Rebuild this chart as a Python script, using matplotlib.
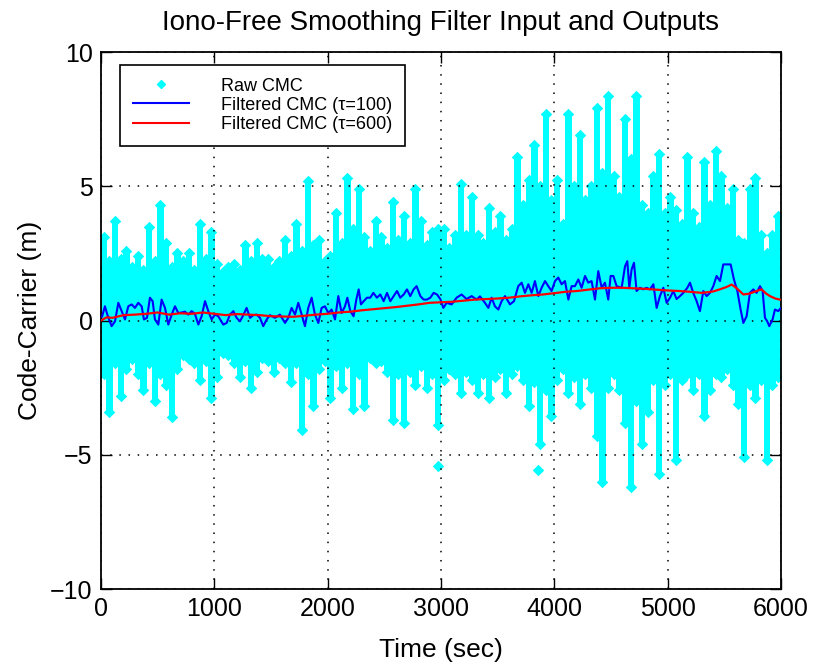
import numpy as np
import matplotlib
matplotlib.use('Agg')
import matplotlib.pyplot as plt
from matplotlib.lines import Line2D

# ------------------ DATA --------------------------------------------------------------

# raw CMC cloud: one column every 50 sec, top and bottom of the scattered points
raw_t = list(range(25, 6000, 50))
raw_hi = [3.1, 2.2, 3.7, 2.3, 2.6, 2.0, 2.4, 1.9, 3.5, 2.2,
          4.3, 2.9, 2.0, 2.5, 2.2, 2.5, 1.9, 3.6, 2.3, 3.3,
          2.1, 1.8, 2.0, 2.1, 1.9, 2.8, 2.2, 2.9, 2.3, 2.3,
          2.0, 2.2, 3.0, 2.4, 3.6, 2.6, 5.2, 2.8, 3.0, 2.2,
          2.4, 4.0, 2.9, 5.3, 3.4, 4.9, 3.1, 2.6, 3.7, 3.1,
          2.7, 4.4, 3.0, 3.9, 2.9, 4.9, 3.7, 2.8, 3.3, 3.4,
          3.4, 2.7, 3.2, 5.1, 3.2, 4.6, 3.2, 2.9, 4.2, 3.3,
          3.9, 3.0, 3.4, 6.1, 4.3, 5.25, 6.55, 5.0, 7.7, 4.5,
          5.25, 3.6, 7.7, 5.0, 6.9, 4.5, 5.0, 7.9, 5.5, 8.35,
          5.4, 4.6, 7.5, 6.0, 8.35, 4.3, 4.0, 5.4, 6.2, 4.0,
          4.6, 4.1, 3.6, 6.1, 4.0, 3.5, 5.9, 4.3, 6.3, 5.4,
          4.2, 4.9, 3.0, 2.9, 4.9, 5.3, 3.2, 2.5, 3.2, 3.9]
raw_lo = [-2.0, -3.4, -1.6, -2.8, -1.8, -1.45, -2.0, -2.6, -1.6, -3.0,
          -2.0, -2.4, -3.6, -1.8, -1.3, -1.45, -1.6, -2.2, -1.5, -2.9,
          -2.1, -1.2, -1.3, -1.6, -2.1, -1.5, -2.5, -1.9, -1.4, -1.5,
          -1.9, -1.4, -1.6, -2.3, -1.6, -4.06, -2.0, -3.2, -1.8, -1.5,
          -2.9, -1.7, -2.5, -1.6, -3.3, -2.0, -3.2, -1.4, -1.6, -1.5,
          -1.9, -3.7, -2.0, -3.8, -1.9, -2.4, -1.7, -2.5, -2.0, -3.9,
          -2.2, -1.8, -2.0, -2.7, -1.9, -2.2, -2.7, -2.0, -2.9, -2.1,
          -1.8, -2.7, -2.0, -1.7, -2.2, -3.2, -2.3, -4.6, -2.6, -3.56,
          -2.2, -1.8, -2.7, -2.1, -3.1, -2.0, -2.5, -4.3, -6.0, -2.5,
          -2.0, -2.6, -3.8, -6.2, -3.0, -4.6, -3.4, -2.2, -5.7, -2.4,
          -2.0, -5.2, -2.2, -2.0, -2.6, -2.0, -3.56, -2.6, -2.0, -2.1,
          -1.8, -2.4, -3.1, -5.1, -2.4, -2.9, -2.2, -5.2, -2.4, -2.1]
# stray points away from the columns
stray_t = [2976, 3859]
stray_v = [-5.4, -5.55]

# filtered CMC, tau = 100
f100_t = [10, 35, 56, 94, 124, 153, 182, 212, 241, 271, 300, 329, 359, 379, 406, 432, 456, 476,
          506, 535, 565, 594, 624, 653, 682, 712, 741, 771, 800, 829, 859, 888, 918, 947, 976,
          1006, 1035, 1079, 1109, 1138, 1168, 1197, 1226, 1256, 1285, 1315, 1344, 1374, 1403,
          1432, 1462, 1491, 1535, 1579, 1624, 1653, 1682, 1712, 1741, 1771, 1800, 1829, 1859,
          1888, 1918, 1947, 1976, 2006, 2035, 2065, 2094, 2124, 2153, 2174, 2200, 2229, 2253,
          2274, 2294, 2318, 2347, 2376, 2403, 2435, 2465, 2494, 2524, 2553, 2582, 2612, 2641,
          2671, 2700, 2729, 2759, 2785, 2818, 2847, 2876, 2906, 2935, 2965, 2994, 3010, 3021,
          3050, 3094, 3138, 3182, 3226, 3271, 3315, 3344, 3388, 3418, 3447, 3476, 3506, 3535,
          3565, 3609, 3644, 3682, 3712, 3741, 3771, 3800, 3829, 3859, 3888, 3918, 3947, 3976,
          4006, 4035, 4065, 4094, 4124, 4153, 4182, 4212, 4241, 4271, 4300, 4329, 4359, 4388,
          4418, 4447, 4476, 4497, 4521, 4550, 4594, 4624, 4644, 4662, 4682, 4703, 4726, 4756,
          4785, 4815, 4844, 4874, 4903, 4932, 4962, 4991, 5021, 5050, 5079, 5109, 5138, 5174,
          5197, 5226, 5256, 5285, 5315, 5344, 5374, 5403, 5432, 5462, 5491, 5526, 5556, 5585,
          5615, 5644, 5668, 5697, 5726, 5756, 5785, 5815, 5838, 5859, 5879, 5897, 5926, 5947,
          5976, 5995]
f100_v = [0.15, 0.53, 0.22, -0.21, -0.03, 0.66, 0.35, 0.04, 0.53, 0.6, 0.47, 0.66, 0.53, 0.04,
          0.1, 0.85, 0.72, 0.04, -0.15, 0.78, 0.47, -0.15, 0.22, 0.53, 0.28, 0.3, 0.33, 0.22,
          0.35, 0.25, -0.15, 0.16, 0.72, 0.35, 0.04, 0.22, 0.16, -0.15, -0.09, 0.22, 0.35, 0.1,
          -0.03, 0.2, 0.47, 0.1, 0.2, 0.22, 0.1, -0.21, 0.04, 0.2, 0.1, 0.22, -0.09, 0.1, 0.47,
          0.22, 0.66, 0.22, -0.21, 0.47, 0.85, 0.22, -0.09, 0.47, 0.53, 0.28, 0.41, 0.04, 0.91,
          0.28, 0.53, 0.85, 0.35, 0.16, 0.78, 1.16, 0.6, 0.72, 0.85, 0.85, 1.03, 0.85, 0.97,
          0.72, 1.03, 0.72, 0.91, 1.1, 0.85, 0.97, 1.16, 0.91, 1.16, 1.28, 0.91, 0.78, 0.78,
          0.85, 1.03, 0.97, 0.8, 0.6, 0.47, 0.66, 0.6, 0.85, 0.97, 0.8, 0.91, 0.78, 0.9, 0.66,
          0.47, 0.85, 0.53, 0.41, 0.72, 0.91, 0.6, 0.72, 1.28, 1.41, 1.03, 1.35, 1.03, 1.47,
          0.91, 1.22, 1.47, 1.28, 1.1, 1.47, 1.6, 1.35, 1.47, 0.78, 1.28, 1.28, 1.53, 1.22,
          1.66, 1.41, 1.47, 0.78, 1.84, 1.22, 1.41, 0.78, 1.66, 1.66, 1.28, 1.22, 2.02, 2.21,
          1.22, 1.9, 2.15, 1.1, 1.22, 1.16, 1.22, 1.16, 1.35, 0.47, 0.91, 1.22, 0.66, 0.85,
          1.1, 0.8, 0.91, 1.03, 1.22, 1.41, 1.03, 0.72, 0.35, 1.1, 0.91, 1.03, 1.28, 1.66,
          1.47, 2.09, 2.09, 2.09, 1.53, 1.1, 0.41, -0.09, 0.16, 1.03, 1.16, 1.03, 1.28, 1.1,
          0.1, -0.03, -0.21, 0.04, 0.41, 0.35, 0.45]

# filtered CMC, tau = 600
f600_t = [0, 50, 100, 200, 300, 400, 500, 600, 700, 800, 900, 1000, 1100, 1200, 1300, 1400,
          1500, 1600, 1700, 1800, 1900, 2000, 2100, 2200, 2300, 2400, 2500, 2600, 2700, 2800,
          2900, 3000, 3100, 3200, 3300, 3400, 3500, 3600, 3700, 3800, 3900, 4000, 4100, 4200,
          4300, 4400, 4500, 4600, 4700, 4800, 4900, 5000, 5100, 5200, 5300, 5400, 5460, 5520,
          5565, 5610, 5668, 5720, 5785, 5829, 5870, 5903, 5950, 5990]
f600_v = [0.0, 0.12, 0.1, 0.2, 0.22, 0.25, 0.3, 0.22, 0.27, 0.25, 0.3, 0.25, 0.2, 0.24, 0.22,
          0.2, 0.16, 0.15, 0.14, 0.18, 0.22, 0.25, 0.3, 0.33, 0.38, 0.42, 0.46, 0.5, 0.55, 0.6,
          0.66, 0.68, 0.7, 0.74, 0.78, 0.8, 0.82, 0.85, 0.9, 0.94, 0.97, 1.02, 1.07, 1.1, 1.15,
          1.2, 1.22, 1.22, 1.2, 1.18, 1.15, 1.12, 1.1, 1.07, 1.03, 1.08, 1.16, 1.25, 1.34, 1.2,
          0.97, 1.0, 1.1, 1.16, 1.0, 0.91, 0.82, 0.78]

legend_labels = ['Raw CMC', 'Filtered CMC (\u03c4=100)', 'Filtered CMC (\u03c4=600)']

# ------------------ PLOTTING -------------------------------------

plt.rcParams['font.family'] = ['Liberation Sans', 'DejaVu Sans']

cyan = '#00ffff'
fig = plt.figure(figsize=(8.13, 6.67), dpi=100)
ax = fig.add_axes([0.1242, 0.1169, 0.8364, 0.8051])

# raw points drawn as columns with diamond ends (slight overlap so no seams show)
raw_t = np.array(raw_t)
raw_hi = np.array(raw_hi)
raw_lo = np.array(raw_lo)
ax.bar(raw_t, raw_hi - raw_lo, bottom=raw_lo, width=58, color=cyan, linewidth=0, zorder=2)
ax.scatter(raw_t, raw_hi, marker='D', s=34, color=cyan, linewidths=0, zorder=2)
ax.scatter(raw_t, raw_lo, marker='D', s=34, color=cyan, linewidths=0, zorder=2)
ax.scatter(stray_t, stray_v, marker='D', s=34, color=cyan, linewidths=0, zorder=2)

ax.plot(f100_t, f100_v, color='#0000ff', lw=1.5, zorder=3)
ax.plot(f600_t, f600_v, color='#ff0000', lw=1.6, zorder=4)

ax.set_xlim(0, 6000)
ax.set_ylim(-10, 10)
ax.set_xticks(range(0, 6001, 1000))
ax.set_yticks([-10, -5, 0, 5, 10])
ax.set_yticklabels(['\u221210', '\u22125', '0', '5', '10'])
ax.grid(True, color='black', linestyle=(0, (1, 5)), linewidth=1.1)
ax.set_axisbelow(False)
ax.tick_params(direction='in', length=8, width=1, top=True, right=True, labelsize=18, pad=6)
for s in ax.spines.values():
    s.set_linewidth(1.3)

ax.set_title('Iono-Free Smoothing Filter Input and Outputs', fontsize=20, pad=16)
ax.set_xlabel('Time (sec)', fontsize=19, labelpad=12)
ax.set_ylabel('Code-Carrier (m)', fontsize=19, labelpad=6)

handles = [Line2D([], [], ls='none', marker='D', ms=4, color=cyan),
           Line2D([], [], color='#0000ff', lw=1.5),
           Line2D([], [], color='#ff0000', lw=1.5)]
leg = ax.legend(handles, legend_labels, loc='upper left', bbox_to_anchor=(0.028, 0.976),
                borderaxespad=0, fontsize=13, handlelength=3.1, handletextpad=1.8,
                labelspacing=0.12, borderpad=0.7, fancybox=False, framealpha=1,
                edgecolor='black')
leg.get_frame().set_linewidth(1.2)

plt.savefig('out.png', dpi=100)
